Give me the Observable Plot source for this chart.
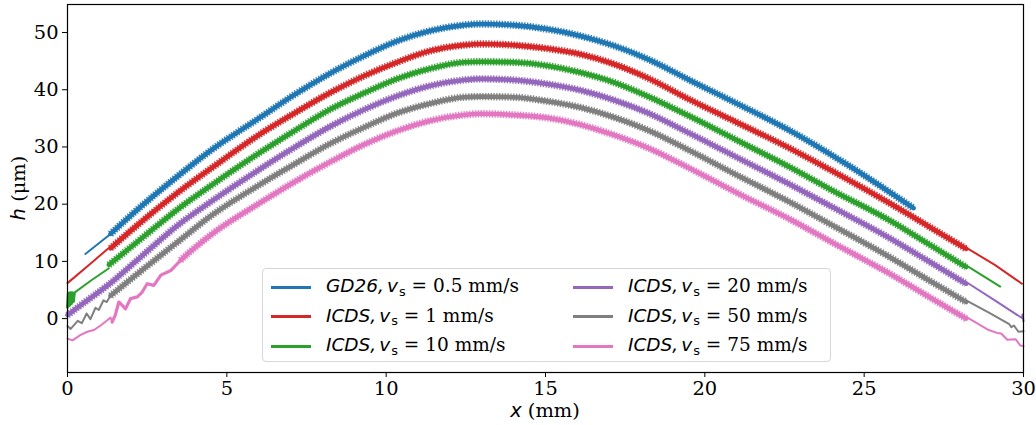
<!DOCTYPE html>
<html>
<head>
<meta charset="utf-8">
<script src="https://cdn.jsdelivr.net/npm/d3@7"></script>
<script src="https://cdn.jsdelivr.net/npm/@observablehq/plot@0.6"></script>
<style>
  html, body { margin: 0; padding: 0; background: #fff; }
  #wrap { position: relative; width: 1036px; height: 425px; overflow: hidden; font-family: "DejaVu Serif", serif; color: #000; }
  #chart { position: absolute; left: 0; top: 0; }
  .math { font-family: "DejaVu Sans", sans-serif; font-style: italic; }
  .sub { font-family: "DejaVu Sans", sans-serif; font-size: 0.7em; position: relative; top: 0.28em; margin-left: 1px; }
  .axlabel { position: absolute; font-size: 19.44px; white-space: nowrap; line-height: 1; }
  #legend { position: absolute; left: 262px; top: 268px; width: 569px; height: 94px; box-sizing: border-box;
            border: 1px solid #d6d6d6; border-radius: 4px; background: rgba(255,255,255,0.85); }
  .lg-handle { position: absolute; width: 40px; height: 3px; }
  .lg-text { position: absolute; font-size: 18.5px; white-space: nowrap; line-height: 1; transform: translateY(-52%); }
</style>
</head>
<body>
<div id="wrap">
  <div id="chart"></div>
  <div class="axlabel" id="xlabel"><span class="math">x</span> (mm)</div>
  <div class="axlabel" id="ylabel"><span class="math">h</span> (μm)</div>
  <div id="legend"></div>
</div>
<script>
// ---------------- data ----------------
const seriesNames = ["GD26, 0.5", "ICDS, 1", "ICDS, 10", "ICDS, 20", "ICDS, 50", "ICDS, 75"];
const seriesColors = ["#1f77b4", "#d62728", "#2ca02c", "#9467bd", "#7f7f7f", "#e377c2"];
const legendModels = ["GD26", "ICDS", "ICDS", "ICDS", "ICDS", "ICDS"];
const legendSpeeds = ["0.5", "1", "10", "20", "50", "75"];
const xTicks = [0, 5, 10, 15, 20, 25, 30];
const yTicks = [0, 10, 20, 30, 40, 50];

// common x positions of the rippled (scanned) part
const midX = [8.25, 9.3, 10.34, 11.39, 12.43, 12.96, 14.0, 15.05, 16.1, 17.14, 18.19, 19.55];

// GD26, v = 0.5 mm/s
const gdThinX = [0.56, 1.35];
const gdThinY = [11.3, 14.8];
const gdRipX = [1.35, 2.1, 3.55, 4.5, 6.06, 7.0, ...midX, 21.0, 22.69, 24.5, 26.55];
const gdRipY = [14.8, 18.6, 25.3, 29.4, 35.2, 38.7, 42.9, 45.9, 48.5, 50.3, 51.3, 51.5, 51.3, 50.6, 49.4, 47.7, 45.4, 41.6, 37.6, 32.8, 26.8, 19.3];

// ICDS, v = 1 mm/s
const v1ThinLX = [0, 0.7, 1.35];
const v1ThinLY = [6.2, 9.5, 12.6];
const v1RipX = [1.35, 2.1, 3.55, 4.49, 6.06, 7.0, ...midX, 21.0, 22.69, 24.0, 25.82, 27.0, 28.2];
const v1RipY = [12.3, 15.9, 22.4, 26.2, 32.3, 35.5, 39.5, 42.4, 44.8, 46.8, 47.8, 48.0, 47.8, 47.2, 46.2, 44.5, 42.1, 38.2, 34.3, 29.7, 25.8, 20.1, 16.2, 12.2];
const v1ThinRX = [28.2, 29.1, 29.95];
const v1ThinRY = [12.4, 9.4, 6.1];

// ICDS, v = 10 mm/s
const v10StartX = [0.0, 0.03, 0.06, 0.09, 0.12, 0.15, 0.18, 0.21];
const v10StartY = [2.0, 4.4, 2.3, 4.5, 2.6, 4.5, 3.0, 4.4];
const v10ThinLX = [0.21, 0.75, 1.3];
const v10ThinLY = [4.5, 6.7, 8.8];
const v10RipX = [1.3, 2.1, 3.55, 4.49, 6.06, 7.0, ...midX, 21.0, 22.69, 24.0, 25.82, 27.0, 28.2];
const v10RipY = [9.4, 13.0, 19.5, 23.2, 29.1, 32.4, 36.6, 39.4, 41.9, 43.7, 44.8, 44.9, 44.8, 44.2, 43.0, 41.3, 38.9, 35.3, 31.2, 26.4, 22.4, 17.1, 13.1, 9.0];
const v10ThinRX = [28.2, 29.27];
const v10ThinRY = [9.3, 5.6];

// ICDS, v = 20 mm/s
const v20RipX = [0, 0.5, 1.35, 2.1, 3.55, 4.49, 6.06, 7.0, ...midX, 21.0, 22.69, 24.0, 25.82, 27.0, 28.2];
const v20RipY = [0.6, 2.7, 6.2, 9.8, 16.7, 20.4, 26.2, 29.5, 33.6, 36.5, 38.9, 40.7, 41.7, 41.9, 41.7, 41.0, 39.9, 38.2, 36.0, 32.3, 28.2, 23.4, 19.5, 14.0, 10.1, 6.1];
const v20ThinRX = [28.2, 29.1, 29.95, 29.97, 30.0];
const v20ThinRY = [6.4, 3.2, 0.1, 0.7, -0.5];

// ICDS, v = 50 mm/s
const v50ThinLX = [0, 0.1, 0.32, 0.45, 0.6, 0.72, 0.88, 0.98, 1.13, 1.23, 1.35];
const v50ThinLY = [-1.3, -1.8, -0.4, -0.8, 0.9, -0.1, 1.9, 1.5, 3.2, 2.9, 4.0];
const v50RipX = [1.35, 2.1, 3.55, 4.49, 6.06, 7.0, ...midX, 21.0, 22.69, 24.0, 25.82, 27.0, 28.2];
const v50RipY = [4.0, 7.4, 13.8, 17.9, 23.5, 26.6, 30.6, 33.4, 35.9, 37.6, 38.7, 38.8, 38.7, 38.0, 36.9, 35.2, 33.0, 29.3, 25.1, 20.3, 16.3, 10.7, 6.8, 2.9];
const v50ThinRX = [28.2, 28.9, 29.54, 29.62, 29.7, 29.84, 30.0];
const v50ThinRY = [3.2, 1.1, -0.9, -1.5, -1.2, -2.3, -2.2];

// ICDS, v = 75 mm/s
const v75ThinLX = [0, 0.16, 0.4, 0.62, 0.83, 1.04, 1.25, 1.35, 1.4];
const v75ThinLY = [-3.5, -3.8, -2.9, -2.3, -2.0, -1.2, -0.3, 0.2, -0.6];
const v75RoughX = [1.4, 1.5, 1.61, 1.72, 1.82, 1.98, 2.19, 2.34, 2.5, 2.71, 2.93, 3.24, 3.55];
const v75RoughY = [-0.6, 0.6, 2.9, 2.3, 1.7, 3.5, 3.8, 4.6, 6.1, 5.8, 7.6, 8.4, 10.2];
const v75RipX = [3.55, 3.87, 4.49, 6.06, 7.0, ...midX, 21.0, 22.69, 24.0, 25.82, 27.0, 28.2];
const v75RipY = [10.2, 11.8, 14.6, 20.3, 23.5, 27.4, 30.4, 32.8, 34.6, 35.6, 35.8, 35.6, 35.1, 33.9, 32.1, 29.9, 26.2, 22.0, 17.3, 13.3, 7.8, 3.9, 0.0];
const v75ThinRX = [28.2, 28.91, 29.17, 29.3, 29.49, 29.75, 29.9, 30.0];
const v75ThinRY = [0.3, -2.0, -2.5, -2.6, -3.7, -3.6, -4.7, -4.8];

// ---------------- build tables ----------------
let segId = 0;
function seg(series, xs, ys) {
  const id = segId++;
  return xs.map((x, i) => ({series, id, x, y: ys[i]}));
}
const thinRows = [
  ...seg(seriesNames[0], gdThinX, gdThinY),
  ...seg(seriesNames[1], v1ThinLX, v1ThinLY),
  ...seg(seriesNames[1], v1ThinRX, v1ThinRY),
  ...seg(seriesNames[2], v10ThinLX, v10ThinLY),
  ...seg(seriesNames[2], v10ThinRX, v10ThinRY),
  ...seg(seriesNames[3], v20ThinRX, v20ThinRY),
  ...seg(seriesNames[4], v50ThinLX, v50ThinLY),
  ...seg(seriesNames[4], v50ThinRX, v50ThinRY),
  ...seg(seriesNames[5], v75ThinLX, v75ThinLY),
  ...seg(seriesNames[5], v75ThinRX, v75ThinRY)
];
const ripRows = [
  ...seg(seriesNames[0], gdRipX, gdRipY),
  ...seg(seriesNames[1], v1RipX, v1RipY),
  ...seg(seriesNames[2], v10RipX, v10RipY),
  ...seg(seriesNames[3], v20RipX, v20RipY),
  ...seg(seriesNames[4], v50RipX, v50RipY),
  ...seg(seriesNames[5], v75RipX, v75RipY)
];
const roughRows = [
  ...seg(seriesNames[2], v10StartX, v10StartY),
  ...seg(seriesNames[5], v75RoughX, v75RoughY)
];

// ---------------- chart ----------------
const chart = Plot.plot({
  width: 1036,
  height: 425,
  marginLeft: 67,
  marginRight: 13,
  marginTop: 4,
  marginBottom: 53,
  style: {fontFamily: "DejaVu Serif, serif", color: "#000", background: "#fff"},
  x: {domain: [0, 30]},
  y: {domain: [-9.42, 54.9]},
  color: {domain: seriesNames, range: seriesColors},
  marks: [
    Plot.line(thinRows, {x: "x", y: "y", z: "id", stroke: "series", strokeWidth: 2, strokeLinejoin: "round"}),
    Plot.line(roughRows, {x: "x", y: "y", z: "id", stroke: "series", strokeWidth: 3.2}),
    Plot.line(ripRows, {x: "x", y: "y", z: "id", stroke: "series", strokeWidth: 4.6, curve: "monotone-x"}),
    Plot.line(ripRows, {x: "x", y: "y", z: "id", stroke: "series", strokeWidth: 7.4, curve: "monotone-x",
      strokeDasharray: "1.4,1.4", strokeLinecap: "butt", strokeOpacity: 0.9}),
    Plot.frame({stroke: "#000", strokeWidth: 1.2}),
    Plot.axisX(xTicks, {tickSize: 5, tickPadding: 4, fontSize: 19.44, label: null, stroke: "#000"}),
    Plot.axisY(yTicks, {tickSize: 5, tickPadding: 4, fontSize: 19.44, label: null, stroke: "#000"})
  ]
});
document.getElementById("chart").appendChild(chart);

// axis labels
const xl = document.getElementById("xlabel");
xl.style.left = "545px"; xl.style.top = "411px";
xl.style.transform = "translate(-50%, -50%)";
const yl = document.getElementById("ylabel");
yl.style.left = "19px"; yl.style.top = "188px";
yl.style.transform = "translate(-50%, -50%) rotate(-90deg)";

// legend
const legend = document.getElementById("legend");
const rowY = [18, 47.5, 77];
const colHandle = [8, 310];
const colText = [63, 365];
seriesNames.forEach((s, i) => {
  const col = Math.floor(i / 3), row = i % 3;
  const h = document.createElement("div");
  h.className = "lg-handle";
  h.style.left = colHandle[col] + "px";
  h.style.top = (rowY[row] - 1.5) + "px";
  h.style.background = seriesColors[i];
  legend.appendChild(h);
  const t = document.createElement("div");
  t.className = "lg-text";
  t.style.left = colText[col] + "px";
  t.style.top = rowY[row] + "px";
  t.innerHTML = `<span class="math">${legendModels[i]},</span><span class="math" style="margin-left:3px">v</span><span class="sub">s</span> = ${legendSpeeds[i]} mm/s`;
  legend.appendChild(t);
});
</script>
</body>
</html>
